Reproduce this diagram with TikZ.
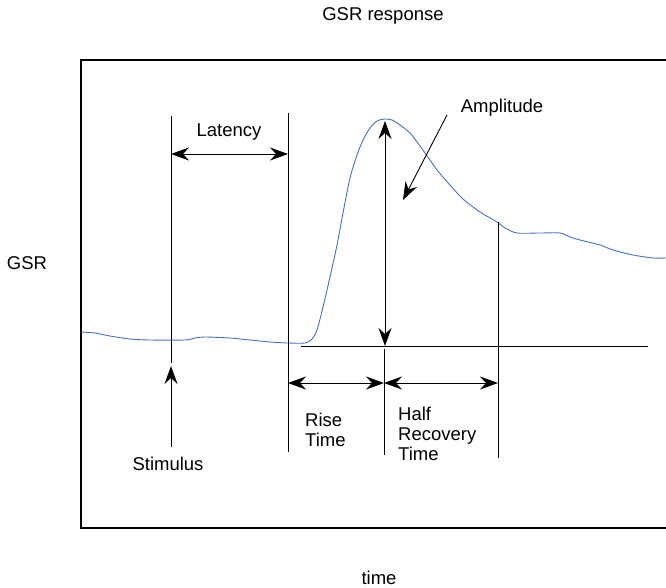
\documentclass[tikz,border=0pt]{standalone}
\usepackage{fontspec}
\setmainfont{Liberation Sans}
\usetikzlibrary{arrows.meta}
\definecolor{curveblue}{RGB}{72,112,196}
\tikzset{
  lbl/.style={font=\fontsize{18.5}{20}\selectfont, inner sep=0pt},
  frame/.style={line width=1.3pt, black},
  guide/.style={line width=0.9pt, black},
  tip/.tip={Stealth[length=18pt,width=13pt,inset=6pt]},
  dim/.style={line width=0.9pt, black, tip-tip},
  pointer/.style={line width=0.9pt, black, -tip},
  signal/.style={line width=0.9pt, curveblue}
}
\begin{document}
\begin{tikzpicture}[x=1pt,y=-1pt]
\useasboundingbox (0,0) rectangle (666,588);
% frame (right side beyond the picture)
\coordinate (fTR) at (666,60);
\coordinate (fTL) at (81,60);
\coordinate (fBL) at (81,528);
\coordinate (fBR) at (666,528);
\draw[frame] (fTR) -- (fTL) -- (fBL) -- (fBR);
% labels
\node[lbl] (title) at (383,16) {GSR response};
\node[lbl] (ylab) at (27,263) {GSR};
\node[lbl] (xlab) at (379,578) {time};
% curve
\draw[signal] plot[smooth, tension=0.45] coordinates {
(81,332) (95,333) (110,336) (130,339) (150,340) (185,340) (195,338) (205,337) (230,338) (250,340) (270,342) (288,343) (305,343) (312,339) (317,330) (323,307) (330,277) (337,245) (343,213) (350,178) (357,155) (363,140) (370,128) (377,121) (385,119) (392,120) (400,125) (410,133) (420,146) (430,160) (437,170) (450,185) (463,199) (480,212) (497,222) (505,228) (517,233) (540,233) (560,233) (570,237) (580,240) (600,245) (613,250) (633,255) (653,258) (666,258)};
% guide lines
\coordinate (stimTop) at (171,116);
\coordinate (stimBot) at (171,363);
\coordinate (latTop) at (288,113);
\coordinate (latBot) at (288,452);
\coordinate (peakTop) at (385,121);
\coordinate (peakBot) at (385,346);
\coordinate (baseL) at (301,346);
\coordinate (baseR) at (648,346);
\coordinate (riseTop) at (384,349);
\coordinate (riseBot) at (384,455);
\coordinate (halfTop) at (498,222);
\coordinate (halfBot) at (498,458);
\draw[guide] (stimTop) -- (stimBot);
\draw[guide] (latTop) -- (latBot);
\draw[guide] (baseL) -- (baseR);
\draw[guide] (riseTop) -- (riseBot);
\draw[guide] (halfTop) -- (halfBot);
% latency
\coordinate (latA) at (171,154);
\coordinate (latB) at (288,154);
\draw[dim] (latA) -- (latB);
\node[lbl] (latency) at (229,132) {Latency};
% amplitude
\draw[dim] (peakTop) -- (peakBot);
\node[lbl] (amp) at (502,108) {Amplitude};
\coordinate (ampFrom) at (447,115);
\coordinate (ampTo) at (403,200);
\draw[pointer] (ampFrom) -- (ampTo);
% rise and half recovery
\coordinate (riseA) at (288,383);
\coordinate (riseB) at (384,383);
\coordinate (halfB) at (498,383);
\draw[dim] (riseA) -- (riseB);
\draw[dim] (riseB) -- (halfB);
\node[lbl, align=left, anchor=west] (rise) at (305,430) {Rise\\Time};
\node[lbl, align=left, anchor=west] (half) at (398,434) {Half\\Recovery\\Time};
% stimulus
\node[lbl] (stim) at (168,464) {Stimulus};
\coordinate (stimFrom) at (171,447);
\coordinate (stimTo) at (171,366);
\draw[pointer] (stimFrom) -- (stimTo);
\end{tikzpicture}
\end{document}
